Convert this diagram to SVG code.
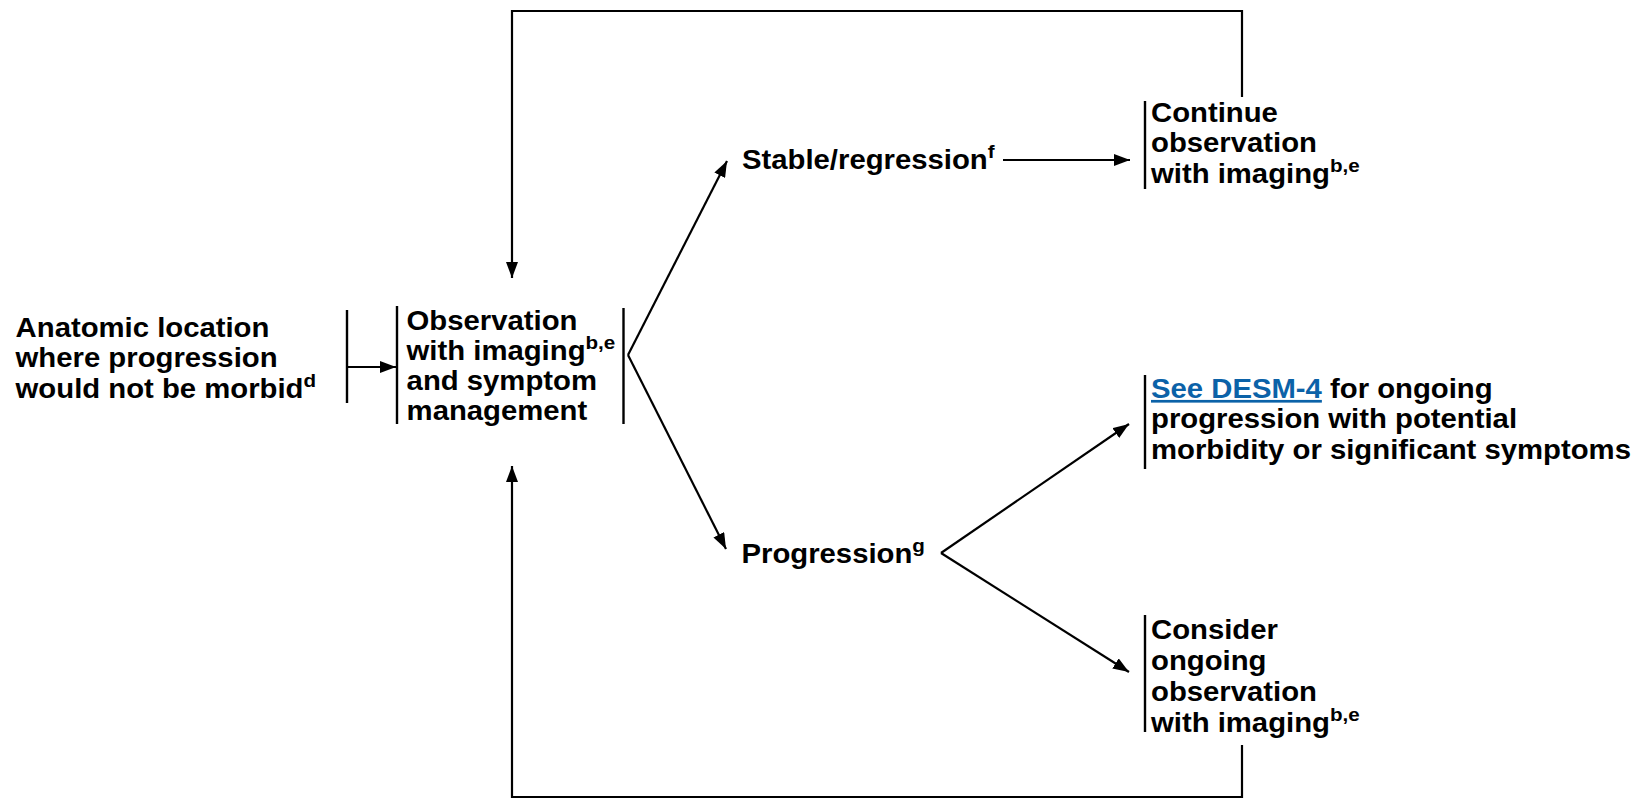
<svg xmlns="http://www.w3.org/2000/svg" width="1635" height="800" viewBox="0 0 1635 800">
  <style>
    .t { font-family: "Liberation Sans", Arial, sans-serif; font-weight: bold; font-size: 27px; fill: #000; }
    .sup { font-size: 19px; }
    .link { fill: #0b62a8; text-decoration: underline; }
    .ln { fill: none; stroke: #000; stroke-width: 2.2; }
    .bar { fill: none; stroke: #000; stroke-width: 2.4; }
  </style>
  <defs>
    <marker id="ah" viewBox="0 0 16 12" refX="16" refY="6" markerWidth="16" markerHeight="12" orient="auto" markerUnits="userSpaceOnUse">
      <path d="M0,0 L16,6 L0,12 z" fill="#000"/>
    </marker>
  </defs>

  <!-- connectors -->
  <g id="connectors">
    <path class="ln" d="M1242,97 V11 H512 V278" marker-end="url(#ah)"/>
    <path class="ln" d="M1242,745 V797 H512 V466" marker-end="url(#ah)"/>
    <path class="ln" d="M347,367 H396" marker-end="url(#ah)"/>
    <path class="ln" d="M628,355 L727,161" marker-end="url(#ah)"/>
    <path class="ln" d="M628,355 L726,549" marker-end="url(#ah)"/>
    <path class="ln" d="M1003,160 H1130" marker-end="url(#ah)"/>
    <path class="ln" d="M941,553 L1129,424" marker-end="url(#ah)"/>
    <path class="ln" d="M941,553 L1129,672" marker-end="url(#ah)"/>
  </g>

  <!-- starting condition -->
  <g id="node-location">
    <text class="t" transform="translate(15.6,337) scale(1.085,1)">
      <tspan x="0" y="0">Anatomic location</tspan>
      <tspan x="0" y="30.5">where progression</tspan>
      <tspan x="0" y="61">would not be morbid</tspan><tspan class="sup" dy="-11">d</tspan>
    </text>
    <line class="bar" x1="347" y1="310" x2="347" y2="403"/>
  </g>

  <g id="node-observation">
    <line class="bar" x1="397" y1="306" x2="397" y2="424"/>
    <text class="t" transform="translate(406.6,330) scale(1.085,1)">
      <tspan x="0" y="0">Observation</tspan>
      <tspan x="0" y="30">with imaging</tspan><tspan class="sup" dy="-11">b,e</tspan>
      <tspan x="0" y="60">and symptom</tspan>
      <tspan x="0" y="90">management</tspan>
    </text>
    <line class="bar" x1="623.5" y1="308" x2="623.5" y2="424"/>
  </g>

  <g id="node-stable">
    <text class="t" transform="translate(742,169) scale(1.085,1)">
      <tspan x="0" y="0">Stable/regression</tspan><tspan class="sup" dy="-11">f</tspan>
    </text>
  </g>

  <g id="node-continue">
    <line class="bar" x1="1145" y1="101" x2="1145" y2="189"/>
    <text class="t" transform="translate(1151,122) scale(1.085,1)">
      <tspan x="0" y="0">Continue</tspan>
      <tspan x="0" y="30.5">observation</tspan>
      <tspan x="0" y="61">with imaging</tspan><tspan class="sup" dy="-11">b,e</tspan>
    </text>
  </g>

  <g id="node-progression">
    <text class="t" transform="translate(741.5,563) scale(1.085,1)">
      <tspan x="0" y="0">Progression</tspan><tspan class="sup" dy="-11">g</tspan>
    </text>
  </g>

  <g id="node-desm4">
    <line class="bar" x1="1145" y1="375" x2="1145" y2="469"/>
    <text class="t" transform="translate(1151,398) scale(1.085,1)">
      <tspan x="0" y="0" class="link">See DESM-4</tspan><tspan> for ongoing</tspan>
      <tspan x="0" y="30.5">progression with potential</tspan>
      <tspan x="0" y="61">morbidity or significant symptoms</tspan>
    </text>
  </g>

  <g id="node-consider">
    <line class="bar" x1="1145" y1="615" x2="1145" y2="732"/>
    <text class="t" transform="translate(1151,639) scale(1.085,1)">
      <tspan x="0" y="0">Consider</tspan>
      <tspan x="0" y="31">ongoing</tspan>
      <tspan x="0" y="62">observation</tspan>
      <tspan x="0" y="93">with imaging</tspan><tspan class="sup" dy="-11">b,e</tspan>
    </text>
  </g>
</svg>
